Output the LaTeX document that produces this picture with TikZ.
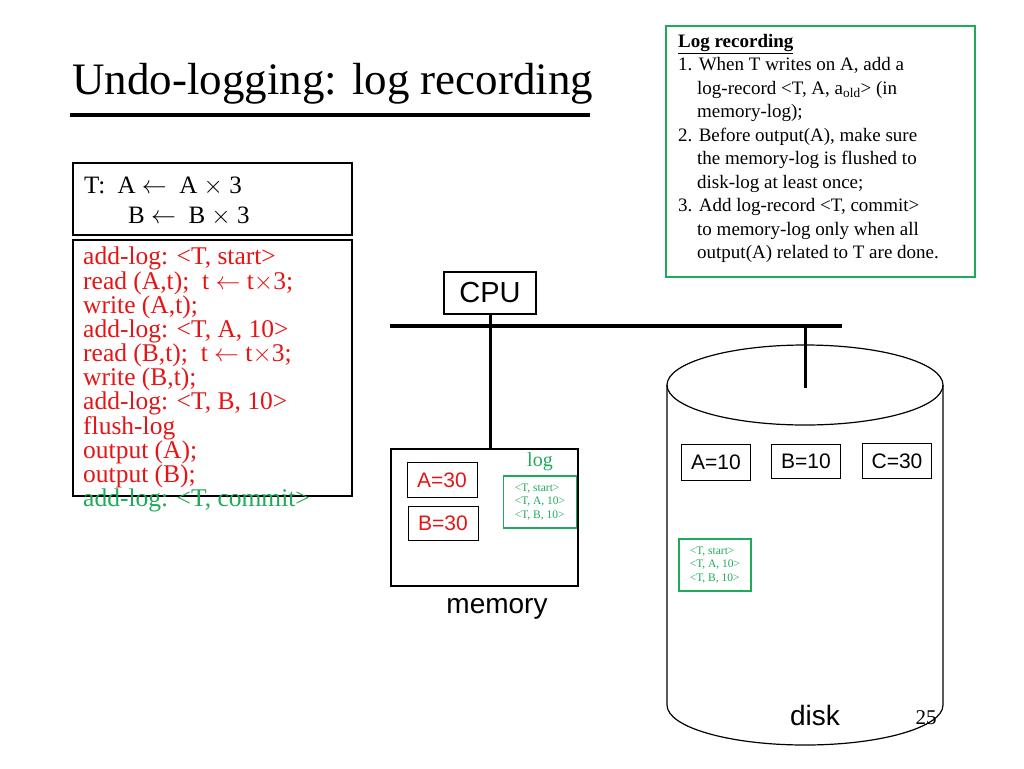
\documentclass[tikz,border=0pt]{standalone}
\usepackage{fontspec}
\setmainfont{Liberation Serif}
\newfontfamily\sansf{Liberation Sans}
\usetikzlibrary{positioning}
\definecolor{logGreen}{RGB}{30,170,90}
\definecolor{codeRed}{RGB}{230,20,20}
\begin{document}
\begin{tikzpicture}[x=1pt,y=-1pt,
    box/.style={draw, line width=1.2pt, inner sep=0pt},
    gbox/.style={draw=logGreen, line width=1.2pt, inner sep=0pt},
    val/.style={draw, line width=1pt, inner sep=0pt, font=\sansf\fontsize{21}{21}\selectfont},
    logtxt/.style={text=logGreen, font=\fontsize{11.5}{13.5}\selectfont, align=left}]

    \useasboundingbox (0,0) rectangle (1024,768);

    % title
    \node[anchor=west, inner sep=0pt, font=\fontsize{45}{45}\selectfont] (title) at (72,84) {Undo-logging: log recording};
    \draw[line width=3.5pt] (70,115) -- (590,115);

    % rules box
    \draw[gbox] (666,26) rectangle (975,277);
    \node[anchor=north west, inner sep=0pt, align=left, font=\fontsize{19}{23.5}\selectfont] (rules) at (678,34)
    {\textbf{\underline{Log recording}}\\
     1. When T writes on A, add a\\
     \hspace*{1em}log-record <T, A, a\textsubscript{old}> (in\\
     \hspace*{1em}memory-log);\\
     2. Before output(A), make sure\\
     \hspace*{1em}the memory-log is flushed to\\
     \hspace*{1em}disk-log at least once;\\
     3. Add log-record <T, commit>\\
     \hspace*{1em}to memory-log only when all\\
     \hspace*{1em}output(A) related to T are done.};

    % transaction
    \draw[box] (73,163) rectangle (352,235);
    \node[anchor=west, inner sep=0pt, font=\fontsize{25}{25}\selectfont] (tA) at (84,186) {T:\ \ A $\leftarrow$ \ A $\times$ 3};
    \node[anchor=west, inner sep=0pt, font=\fontsize{25}{25}\selectfont] (tB) at (128,216) {B $\leftarrow$ \ B $\times$ 3};

    % actions
    \draw[box] (73,240) rectangle (352,496);
    \node[anchor=north west, inner sep=0pt, align=left, text=codeRed, font=\fontsize{25.5}{21.8}\selectfont] (code) at (83,247)
    {add-log: <T, start>\\
     read (A,t); \ t $\leftarrow$ t$\times$3;\\
     write (A,t);\\
     add-log: <T, A, 10>\\
     read (B,t); \ t $\leftarrow$ t$\times$3;\\
     write (B,t);\\
     add-log: <T, B, 10>\\
     flush-log\\
     output (A);\\
     output (B);\\
     \textcolor{logGreen}{add-log: <T, commit>}};

    % cpu and bus
    \node[box, minimum width=92pt, minimum height=42pt, font=\sansf\fontsize{29}{29}\selectfont] (cpu) at (490,293) {CPU};
    \coordinate (busL) at (390,326);
    \coordinate (busR) at (842,326);
    \draw[line width=3.5pt] (busL) -- (busR);

    % disk
    \draw[line width=1.2pt] (667,385) -- (667,705) arc (180:0:138 and 40) -- (943,385);
    \draw[line width=1.2pt] (805,385) ellipse (138 and 40);
    \node[font=\sansf\fontsize{28}{28}\selectfont] (disk) at (815,715) {disk};
    \node[font=\fontsize{21}{21}\selectfont] (page) at (926,718) {25};

    % memory
    \draw[line width=1.2pt] (391,449) rectangle (578,586);
    \coordinate (memTop) at (490,449);
    \node[font=\sansf\fontsize{28}{28}\selectfont] (memory) at (497,609) {memory};
    \node[text=logGreen, font=\fontsize{20}{20}\selectfont] (logLbl) at (540,462) {log};

    \draw[line width=3pt] (cpu.south) -- (memTop);
    \coordinate (diskTop) at (805,388);
    \coordinate (busTap) at (805,326);
    \draw[line width=3pt] (busTap) -- (diskTop);

    \node[val, text=codeRed, minimum width=70pt, minimum height=35pt] (memA) at (442,480) {A=30};
    \node[val, text=codeRed, minimum width=70pt, minimum height=34pt] (memB) at (443,523) {B=30};
    \node[gbox, minimum width=73pt, minimum height=52pt] (memLog) at (540,502) {};
    \node[logtxt] at (memLog) {<T, start>\\<T, A, 10>\\<T, B, 10>};

    \node[val, minimum width=69pt, minimum height=36pt] (diskA) at (716,462) {A=10};
    \node[val, minimum width=69pt, minimum height=34pt] (diskB) at (806,461) {B=10};
    \node[val, minimum width=69pt, minimum height=35pt] (diskC) at (897,461) {C=30};
    \node[gbox, minimum width=72pt, minimum height=52pt] (diskLog) at (715,565) {};
    \node[logtxt] at (diskLog) {<T, start>\\<T, A, 10>\\<T, B, 10>};

\end{tikzpicture}
\end{document}
